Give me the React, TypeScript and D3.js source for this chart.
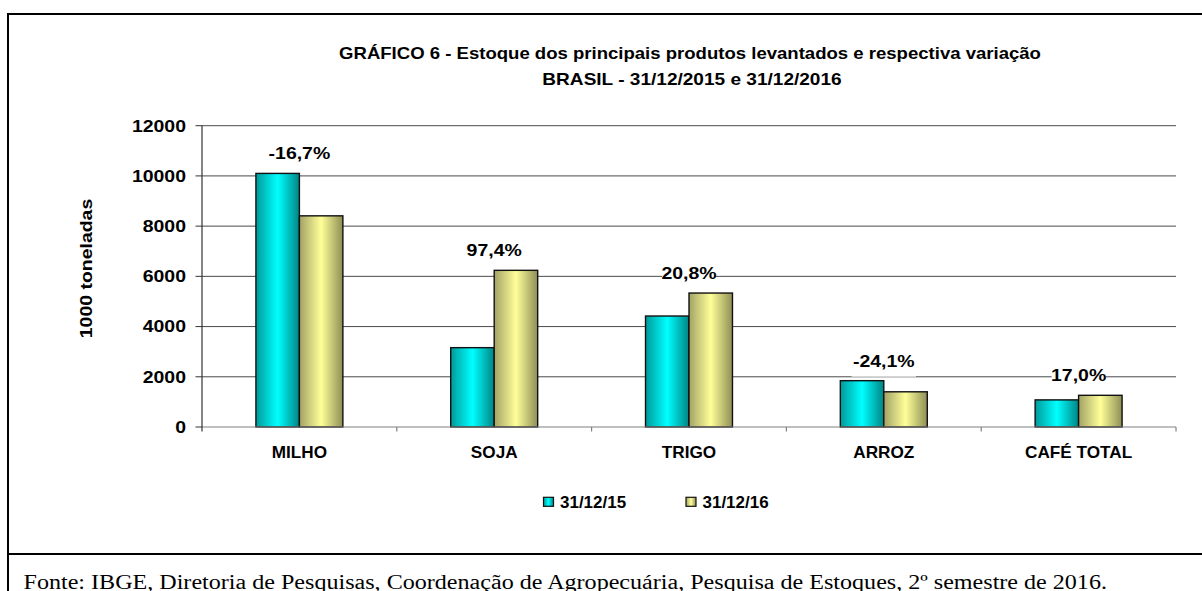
import React from "react";
import * as d3 from "d3";

const categories = ["MILHO", "SOJA", "TRIGO", "ARROZ", "CAFÉ TOTAL"];
const seriesNames = ["31/12/15", "31/12/16"];
const stock2015 = [10100, 3160, 4420, 1845, 1080];
const stock2016 = [8410, 6240, 5335, 1402, 1262];
const variation = [-16.7, 97.4, 20.8, -24.1, 17.0];
const yTicks = [0, 2000, 4000, 6000, 8000, 10000, 12000];

const titleLines = [
  "GRÁFICO 6 - Estoque dos principais produtos levantados e respectiva variação",
  "BRASIL - 31/12/2015 e 31/12/2016",
];
const yTitle = "1000 toneladas";
const footer =
  "Fonte: IBGE, Diretoria de Pesquisas, Coordenação de Agropecuária, Pesquisa de Estoques, 2º semestre de 2016.";

const W = 1202;
const H = 591;
const FONT = "Arial, 'Liberation Sans', sans-serif";
const FS = 16.5;
const STRETCH = 1.18;

// text whose visual centre sits at (x, y), stretched horizontally like the original picture
function T({ x, y, children, sx = STRETCH, anchor = "middle", rotate = 0, size = FS }) {
  return (
    <g transform={`translate(${x},${y}) rotate(${rotate}) scale(${sx},1)`}>
      <text
        y={size * 0.358}
        textAnchor={anchor}
        fontFamily={FONT}
        fontWeight="bold"
        fontSize={size}
        fill="#000"
      >
        {children}
      </text>
    </g>
  );
}

export default function App() {
  const left = 202;
  const right = 1176;
  const top = 125.7;
  const bottom = 427;

  const x0 = d3.scaleBand().domain(categories).range([left, right]).padding(0);
  const x1 = d3
    .scaleBand()
    .domain(seriesNames)
    .range([0, x0.bandwidth()])
    .paddingInner(0)
    .paddingOuter(1.24);
  const y = d3.scaleLinear().domain([0, 12000]).range([bottom, top]);

  const values = [stock2015, stock2016];
  const fills = ["url(#gCyan)", "url(#gOlive)"];
  const fmt = (v) => d3.format(".1f")(v).replace("−", "-").replace(".", ",") + "%";

  return (
    <svg
      width={W}
      height={H}
      style={{ position: "absolute", left: 0, top: 0, background: "#fff" }}
    >
      <defs>
        <linearGradient id="gCyan" x1="0" x2="1" y1="0" y2="0">
          <stop offset="0" stopColor="#009a9a" />
          <stop offset="0.5" stopColor="#00ffff" />
          <stop offset="1" stopColor="#008484" />
        </linearGradient>
        <linearGradient id="gOlive" x1="0" x2="1" y1="0" y2="0">
          <stop offset="0" stopColor="#a2a266" />
          <stop offset="0.5" stopColor="#ffff99" />
          <stop offset="1" stopColor="#8e8e56" />
        </linearGradient>
      </defs>

      {/* frame */}
      <line x1={8} x2={W} y1={14} y2={14} stroke="#000" strokeWidth={2} />
      <line x1={8} x2={8} y1={13} y2={H} stroke="#000" strokeWidth={2} />
      <line x1={8} x2={W} y1={554} y2={554} stroke="#000" strokeWidth={2} />

      {/* title */}
      <T x={690} y={52.7} sx={1.125}>{titleLines[0]}</T>
      <T x={692} y={79} sx={1.155}>{titleLines[1]}</T>

      {/* gridlines and y ticks */}
      {yTicks.map((t) => (
        <g key={t}>
          {t > 0 && (
            <line x1={left} x2={right} y1={y(t)} y2={y(t)} stroke="#4a4a4a" strokeWidth={1} />
          )}
          <line x1={left - 6.5} x2={left} y1={y(t)} y2={y(t)} stroke="#333" strokeWidth={1} />
          <T x={left - 16} y={y(t)} anchor="end">
            {String(t)}
          </T>
        </g>
      ))}
      <T x={85.8} y={268.5} rotate={-90}>
        {yTitle}
      </T>

      {/* bars */}
      {categories.map((c, i) =>
        seriesNames.map((s, k) => {
          const v = values[k][i];
          return (
            <rect
              key={c + s}
              x={x0(c) + x1(s)}
              y={y(v)}
              width={x1.bandwidth()}
              height={y(0) - y(v)}
              fill={fills[k]}
              stroke="#111"
              strokeWidth={1.4}
            />
          );
        })
      )}

      {/* axes */}
      <line x1={left} x2={right} y1={bottom} y2={bottom} stroke="#808080" strokeWidth={1.2} />
      <line x1={left} x2={left} y1={top} y2={bottom + 4.5} stroke="#333" strokeWidth={1.2} />
      {categories.map((c) => (
        <line
          key={c}
          x1={x0(c) + x0.bandwidth()}
          x2={x0(c) + x0.bandwidth()}
          y1={bottom}
          y2={bottom + 4.5}
          stroke="#808080"
          strokeWidth={1.2}
        />
      ))}
      {categories.map((c) => (
        <T key={c} x={x0(c) + x0.bandwidth() / 2} y={452} sx={1.04}>
          {c}
        </T>
      ))}

      {/* variation labels */}
      {categories.map((c, i) => {
        const cx = x0(c) + x0.bandwidth() / 2;
        const cy = y(Math.max(stock2015[i], stock2016[i])) - 20;
        const label = fmt(variation[i]);
        const w = label.length * 10.4 + 2;
        return (
          <g key={c}>
            <rect x={cx - w / 2} y={cy - 16} width={w} height={32} fill="#fff" />
            <T x={cx} y={cy}>
              {label}
            </T>
          </g>
        );
      })}

      {/* legend */}
      {seriesNames.map((s, k) => {
        const lx = [543.5, 686][k];
        return (
          <g key={s}>
            <rect x={lx} y={497.3} width={10} height={9} fill={fills[k]} stroke="#111" strokeWidth={1.2} />
            <T x={lx + 16.5} y={501.7} anchor="start" sx={1.03}>
              {s}
            </T>
          </g>
        );
      })}

      {/* footer */}
      <g transform="translate(23.5,589) scale(1.175,1)">
        <text fontFamily="'Times New Roman', 'Liberation Serif', serif" fontSize={20.5} fill="#000">
          {footer}
        </text>
      </g>
    </svg>
  );
}
